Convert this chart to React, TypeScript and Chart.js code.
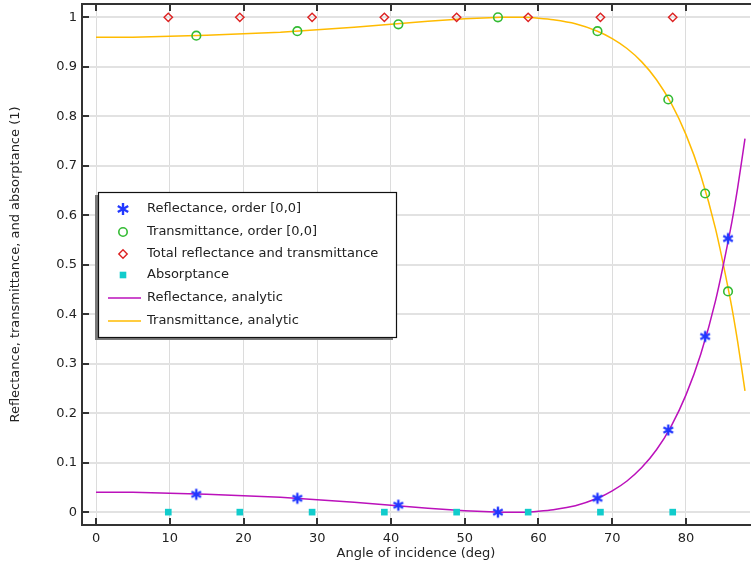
import React, { useEffect, useRef } from 'react';
import { Chart, registerables } from 'chart.js';
Chart.register(...registerables);

// Simulated data (orders [0,0])
const simAngles = [13.6, 27.3, 41.0, 54.5, 68.0, 77.6, 82.6, 85.7];
const reflectance = [0.036, 0.028, 0.014, 0.0, 0.028, 0.166, 0.355, 0.553];
const transmittance = [0.963, 0.972, 0.986, 1.0, 0.972, 0.834, 0.644, 0.446];

const totalAngles = [9.8, 19.5, 29.3, 39.1, 48.9, 58.6, 68.4, 78.2];
const totalRT = [1, 1, 1, 1, 1, 1, 1, 1];
const absorptance = [0, 0, 0, 0, 0, 0, 0, 0];

// Analytic curves
const anaAngles = [0, 5, 10, 15, 20, 25, 30, 35, 40, 45, 50, 55, 58, 60, 62, 65, 68, 70, 72, 74, 76, 78, 80, 82, 84, 86, 87, 88];
const reflAnalytic = [0.040, 0.040, 0.038, 0.036, 0.033, 0.030, 0.025, 0.020, 0.014, 0.008, 0.003, 0.000, 0.000, 0.002, 0.005, 0.013, 0.028, 0.043, 0.063, 0.090, 0.126, 0.174, 0.237, 0.319, 0.427, 0.569, 0.655, 0.755];
const transAnalytic = [0.960, 0.960, 0.962, 0.964, 0.967, 0.970, 0.975, 0.980, 0.986, 0.992, 0.997, 1.000, 1.000, 0.998, 0.995, 0.987, 0.972, 0.957, 0.937, 0.910, 0.874, 0.826, 0.763, 0.681, 0.573, 0.431, 0.345, 0.245];

const xTicks = [0, 10, 20, 30, 40, 50, 60, 70, 80];
const yTicks = [0, 0.1, 0.2, 0.3, 0.4, 0.5, 0.6, 0.7, 0.8, 0.9, 1];
const xTickLabels = ['0', '10', '20', '30', '40', '50', '60', '70', '80'];
const yTickLabels = ['0', '0.1', '0.2', '0.3', '0.4', '0.5', '0.6', '0.7', '0.8', '0.9', '1'];

const legendLabels = [
  'Reflectance, order [0,0]',
  'Transmittance, order [0,0]',
  'Total reflectance and transmittance',
  'Absorptance',
  'Reflectance, analytic',
  'Transmittance, analytic',
];

const BLUE = '#2238ff';
const GREEN = '#33bb33';
const RED = '#dd2222';
const CYAN = '#11cccc';
const MAGENTA = '#bb11bb';
const ORANGE = '#ffbb00';
const FONT = '13px "DejaVu Sans", sans-serif';

function drawStar(ctx: CanvasRenderingContext2D, x: number, y: number, r: number) {
  ctx.save();
  ctx.strokeStyle = BLUE;
  ctx.lineWidth = 2.4;
  ctx.lineCap = 'butt';
  for (const a of [90, 30, 150]) {
    const rad = (a * Math.PI) / 180;
    ctx.beginPath();
    ctx.moveTo(x - r * Math.cos(rad), y - r * Math.sin(rad));
    ctx.lineTo(x + r * Math.cos(rad), y + r * Math.sin(rad));
    ctx.stroke();
  }
  ctx.restore();
}

function makeStarImage() {
  const c = document.createElement('canvas');
  c.width = 14;
  c.height = 14;
  const ctx = c.getContext('2d')!;
  drawStar(ctx, 7, 7, 5.5);
  return c;
}

const overlayPlugin = {
  id: 'overlay',
  afterDatasetsDraw(chart: any) {
    const { ctx, chartArea } = chart;
    const { left, right, top, bottom } = chartArea;
    const xs = chart.scales.x;
    const ys = chart.scales.y;
    ctx.save();
    ctx.strokeStyle = '#333';
    ctx.lineWidth = 2;
    ctx.strokeRect(left, top, right - left + 2, bottom - top);
    ctx.beginPath();
    for (const v of xTicks) {
      const px = Math.round(xs.getPixelForValue(v));
      ctx.moveTo(px, bottom);
      ctx.lineTo(px, bottom - 7);
      ctx.moveTo(px, top);
      ctx.lineTo(px, top + 7);
    }
    for (const v of yTicks) {
      const py = Math.round(ys.getPixelForValue(v));
      ctx.moveTo(left, py);
      ctx.lineTo(left + 7, py);
    }
    ctx.stroke();
    // tick labels
    ctx.font = FONT;
    ctx.fillStyle = '#222';
    ctx.textBaseline = 'middle';
    ctx.textAlign = 'center';
    xTicks.forEach((v, i) => ctx.fillText(xTickLabels[i], xs.getPixelForValue(v), bottom + 14));
    ctx.textAlign = 'right';
    yTicks.forEach((v, i) => ctx.fillText(yTickLabels[i], left - 5, ys.getPixelForValue(v)));
    ctx.restore();
  },
  afterDraw(chart: any) {
    const { ctx } = chart;
    const bx = 98, by = 192, bw = 298, bh = 145;
    ctx.save();
    ctx.fillStyle = '#7a7a7a';
    ctx.fillRect(bx - 3, by + 3, bw, bh);
    ctx.fillStyle = '#ffffff';
    ctx.fillRect(bx, by, bw, bh);
    ctx.strokeStyle = '#111';
    ctx.lineWidth = 1.2;
    ctx.strokeRect(bx + 0.5, by + 0.5, bw, bh);
    const rows = [209, 232, 254, 275, 298, 321];
    const mx = 123;
    ctx.font = FONT;
    ctx.fillStyle = '#222';
    ctx.textBaseline = 'middle';
    ctx.textAlign = 'left';
    legendLabels.forEach((t, i) => ctx.fillText(t, 147, rows[i]));
    // markers
    drawStar(ctx, mx, rows[0], 6);
    ctx.lineWidth = 1.6;
    ctx.strokeStyle = GREEN;
    ctx.beginPath();
    ctx.arc(mx, rows[1], 4.2, 0, Math.PI * 2);
    ctx.stroke();
    ctx.strokeStyle = RED;
    ctx.lineWidth = 1.4;
    ctx.beginPath();
    ctx.moveTo(mx, rows[2] - 4.2);
    ctx.lineTo(mx + 4.2, rows[2]);
    ctx.lineTo(mx, rows[2] + 4.2);
    ctx.lineTo(mx - 4.2, rows[2]);
    ctx.closePath();
    ctx.stroke();
    ctx.fillStyle = CYAN;
    ctx.fillRect(mx - 3.3, rows[3] - 3.3, 6.6, 6.6);
    ctx.lineWidth = 1.5;
    ctx.strokeStyle = MAGENTA;
    ctx.beginPath();
    ctx.moveTo(108, rows[4]);
    ctx.lineTo(141, rows[4]);
    ctx.stroke();
    ctx.strokeStyle = ORANGE;
    ctx.beginPath();
    ctx.moveTo(108, rows[5]);
    ctx.lineTo(141, rows[5]);
    ctx.stroke();
    ctx.restore();
  },
};

export default function App() {
  const ref = useRef<HTMLCanvasElement>(null);
  useEffect(() => {
    if (!ref.current) return;
    Chart.defaults.font.family = '"DejaVu Sans", sans-serif';
    Chart.defaults.font.size = 13;
    Chart.defaults.color = '#222';
    const star = makeStarImage();
    const pts = (xs: number[], ys: number[]) => xs.map((x, i) => ({ x, y: ys[i] }));
    const chart = new Chart(ref.current, {
      type: 'scatter',
      data: {
        datasets: [
          { label: legendLabels[0], data: pts(simAngles, reflectance), pointStyle: star as any, pointRadius: 6, borderColor: BLUE, backgroundColor: BLUE },
          { label: legendLabels[1], data: pts(simAngles, transmittance), pointStyle: 'circle', pointRadius: 4.3, borderWidth: 1.6, borderColor: GREEN, backgroundColor: 'rgba(0,0,0,0)' },
          { label: legendLabels[2], data: pts(totalAngles, totalRT), pointStyle: 'rectRot', pointRadius: 4.2, borderWidth: 1.4, borderColor: RED, backgroundColor: 'rgba(0,0,0,0)' },
          { label: legendLabels[3], data: pts(totalAngles, absorptance), pointStyle: 'rect', pointRadius: 4.7, borderWidth: 0, borderColor: CYAN, backgroundColor: CYAN },
          { label: legendLabels[4], data: pts(anaAngles, reflAnalytic), showLine: true, pointRadius: 0, borderWidth: 1.5, borderColor: MAGENTA, backgroundColor: MAGENTA, tension: 0.2 } as any,
          { label: legendLabels[5], data: pts(anaAngles, transAnalytic), showLine: true, pointRadius: 0, borderWidth: 1.5, borderColor: ORANGE, backgroundColor: ORANGE, tension: 0.2 } as any,
        ],
      },
      options: {
        animation: false,
        responsive: false,
        layout: { autoPadding: false, padding: { top: 4, right: 1, left: 0, bottom: 0 } },
        plugins: { legend: { display: false }, tooltip: { enabled: false } },
        scales: {
          x: {
            type: 'linear',
            min: -1.9,
            max: 88.68,
            afterFit: (s: any) => { s.height = 40; },
            afterBuildTicks: (s: any) => { s.ticks = xTicks.map((v) => ({ value: v })); },
            ticks: { display: false },
            grid: { color: '#dcdcdc', lineWidth: 1, drawTicks: false },
            border: { display: false },
            title: { display: true, text: 'Angle of incidence (deg)', font: { size: 13 }, color: '#222', padding: { top: 0, bottom: 4 } },
          },
          y: {
            type: 'linear',
            min: -0.026,
            max: 1.027,
            afterFit: (s: any) => { s.width = 82; },
            afterBuildTicks: (s: any) => { s.ticks = yTicks.map((v) => ({ value: v })); },
            ticks: { display: false },
            grid: { color: '#e2e2e2', lineWidth: 2, drawTicks: false },
            border: { display: false },
            title: { display: true, text: 'Reflectance, transmittance, and absorptance (1)', font: { size: 13 }, color: '#222', padding: { top: 8, bottom: 0 } },
          },
        },
      },
      plugins: [overlayPlugin],
    });
    return () => chart.destroy();
  }, []);
  return (
    <div style={{ position: 'absolute', left: 0, top: 0, width: 751, height: 565, background: '#fff' }}>
      <canvas ref={ref} width={751} height={565} />
    </div>
  );
}
